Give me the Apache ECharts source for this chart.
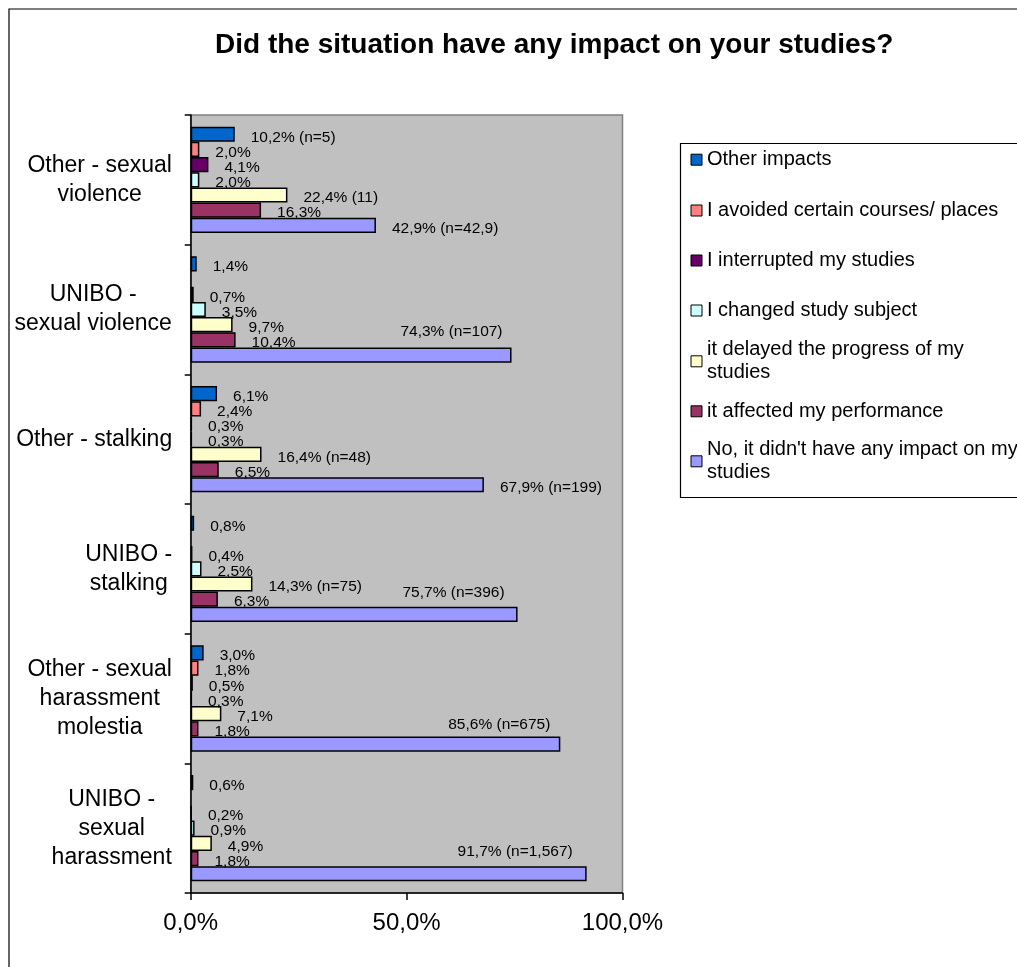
<!DOCTYPE html>
<html><head><meta charset="utf-8">
<script src="https://cdn.jsdelivr.net/npm/echarts@6/dist/echarts.min.js"></script>
<style>html,body{margin:0;padding:0;background:#fff;} #c{width:1017px;height:967px;}</style>
</head><body><div id="c"></div>
<script>
// ---------- data ----------
const categories = ['Other - sexual\nviolence', 'UNIBO -\nsexual violence', 'Other - stalking', 'UNIBO -\nstalking', 'Other - sexual\nharassment\nmolestia', 'UNIBO -\nsexual\nharassment'];
const seriesNames = ['Other impacts', 'I avoided certain courses/ places', 'I interrupted my studies', 'I changed study subject', 'it delayed the progress of my\nstudies', 'it affected my performance', "No, it didn't have any impact on my\nstudies"];
const otherImpacts   = [10.2, 1.4, 6.1, 0.8, 3.0, 0.6];
const avoidedPlaces  = [2.0, null, 2.4, null, 1.8, null];
const interrupted    = [4.1, 0.7, 0.3, 0.4, 0.5, 0.2];
const changedSubject = [2.0, 3.5, 0.3, 2.5, 0.3, 0.9];
const delayed        = [22.4, 9.7, 16.4, 14.3, 7.1, 4.9];
const affected       = [16.3, 10.4, 6.5, 6.3, 1.8, 1.8];
const noImpact       = [42.9, 74.3, 67.9, 75.7, 85.6, 91.7];
const otherNotes    = ['(n=5)', '', '', '', '', ''];
const delayedNotes  = ['(11)', '', '(n=48)', '(n=75)', '', ''];
const noImpactNotes = ['(n=42,9)', '(n=107)', '(n=199)', '(n=396)', '(n=675)', '(n=1,567)'];
const xTicks = [0, 50, 100];
const titleText = 'Did the situation have any impact on your studies?';

// ---------- styling ----------
const FONT = 'Liberation Sans';
const colors = ['#0066CC', '#FF8080', '#660066', '#CCFFFF', '#FFFFCC', '#993366', '#9999FF'];
const allValues = [otherImpacts, avoidedPlaces, interrupted, changedSubject, delayed, affected, noImpact];
const allNotes = [otherNotes, null, null, null, delayedNotes, null, noImpactNotes];
// labels that sit above the bar end (style placement, by category index) for the last series
const raisedShift = {1: [-9, -16], 3: [-13, -14], 4: [-10, -12], 5: [-14, -14]};

function fmt(v) { return v.toFixed(1).replace('.', ',') + '%'; }

const ctx = document.createElement('canvas').getContext('2d');
const catFontSize = 23;
ctx.font = catFontSize + 'px "' + FONT + '"';
const rich = {};
categories.forEach((c, i) => {
  const w = Math.max(...c.split('\n').map(s => ctx.measureText(s).width));
  rich['c' + i] = {width: Math.ceil(w) + 1, align: 'center', fontSize: catFontSize, lineHeight: 29, fontFamily: FONT, color: '#000'};
});

const series = seriesNames.map((name, si) => ({
  type: 'bar',
  name: name,
  barGap: '0%',
  barCategoryGap: '18%',
  itemStyle: {color: colors[si], borderColor: '#000', borderWidth: 1.5},
  label: {
    show: true, position: 'right', distance: 16, offset: [0, 3],
    fontFamily: FONT, fontSize: 15.5, color: '#000',
    formatter: p => {
      const notes = allNotes[si];
      const n = notes ? notes[p.dataIndex] : '';
      return fmt(p.value) + (n ? ' ' + n : '');
    }
  },
  data: allValues[si].map((v, ci) => {
    if (si === 6 && raisedShift[ci]) {
      return {value: v, label: {position: ['100%', '0%'], align: 'right', verticalAlign: 'middle', offset: raisedShift[ci]}};
    }
    return v;
  })
}));

// legend: one component per entry so spacing matches the reference box
const legendCenters = [159.7, 210.5, 260.5, 310.5, 361.3, 411.3, 461.3];
const legends = seriesNames.map((name, i) => {
  const twoLine = name.indexOf('\n') >= 0;
  return {
    orient: 'vertical', left: 690.5, top: legendCenters[i] - (twoLine ? 34.5 : 11.5), padding: 0,
    itemWidth: 11, itemHeight: 11, icon: 'rect', selectedMode: false,
    itemStyle: {borderColor: '#000', borderWidth: 1},
    textStyle: {fontFamily: FONT, fontSize: 20, lineHeight: 23, color: '#000', padding: twoLine ? [23, 0, 0, 0] : 0},
    data: [name]
  };
});

const chart = echarts.init(document.getElementById('c'), null, {renderer: 'canvas'});
chart.setOption({
  animation: false,
  backgroundColor: '#fff',
  title: {text: titleText, left: 215, top: 31, padding: 0,
    textStyle: {fontFamily: FONT, fontSize: 28, fontWeight: 'bold', color: '#000'}},
  legend: legends,
  grid: {left: 190.7, right: 394.5, top: 115, bottom: 74, show: true, backgroundColor: '#C0C0C0',
    borderColor: '#808080', borderWidth: 1.5, containLabel: false, outerBoundsMode: 'none'},
  xAxis: {
    type: 'value', min: xTicks[0], max: xTicks[xTicks.length - 1], interval: xTicks[1] - xTicks[0],
    axisLine: {show: true, lineStyle: {color: '#000', width: 1.5}},
    axisTick: {show: true, length: 7, lineStyle: {color: '#000', width: 1.5}},
    splitLine: {show: false},
    axisLabel: {fontFamily: FONT, fontSize: 24, color: '#000', margin: 18, formatter: v => fmt(v)}
  },
  yAxis: {
    type: 'category', data: categories, inverse: true,
    axisLine: {show: true, lineStyle: {color: '#000', width: 1.5}},
    axisTick: {show: true, length: 6, lineStyle: {color: '#000', width: 1.5}},
    axisLabel: {margin: 18, formatter: (v, i) => v.split('\n').map(s => '{c' + i + '|' + s + '}').join('\n'), rich: rich}
  },
  series: series,
  graphic: [
    {type: 'rect', shape: {x: 9, y: 9, width: 1040, height: 990}, style: {fill: null, stroke: '#000', lineWidth: 1.2}, silent: true},
    {type: 'rect', shape: {x: 680.5, y: 143.5, width: 400, height: 354}, style: {fill: null, stroke: '#000', lineWidth: 1.2}, silent: true, z: -1}
  ]
});
</script></body></html>
